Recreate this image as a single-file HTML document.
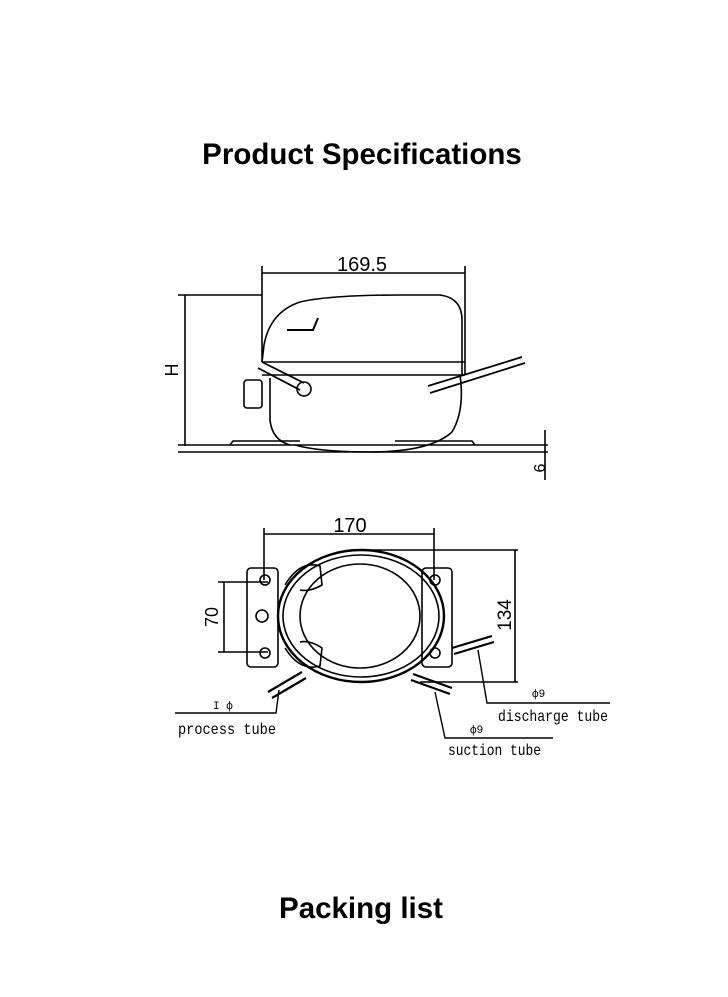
<!DOCTYPE html>
<html><head><style>
body{margin:0;background:#fff;width:728px;height:997px;overflow:hidden;font-family:"Liberation Sans",sans-serif}
.t{position:absolute;left:0;width:728px;text-align:center;font-weight:bold;font-size:29.5px;color:#000}
svg{position:absolute;left:0;top:0}
</style></head><body>
<div class="t" style="top:138px;left:-2px">Product Specifications</div>
<div class="t" style="top:892px;left:-3px">Packing list</div>
<svg width="728" height="997" fill="none" stroke="#000" stroke-width="1.6" font-family="Liberation Sans, sans-serif">
<!-- side view -->
<line x1="262" y1="273" x2="465" y2="273"/>
<line x1="262" y1="266" x2="262" y2="362"/><line x1="465" y1="266" x2="465" y2="375"/>
<text x="362" y="271" font-size="20" fill="#000" stroke="none" text-anchor="middle">169.5</text>
<line x1="178" y1="295" x2="262" y2="295"/>
<path d="M262 362 L264 345 Q270 312 300 302 Q330 295 400 295 L440 295 Q462 298 462 320 L462 375"/>
<line x1="262" y1="362" x2="465" y2="362"/><line x1="262" y1="375" x2="465" y2="375"/>
<path d="M287 330 L313 330 L318 318" stroke-width="2"/>
<line x1="185" y1="295" x2="185" y2="446"/>
<text x="178" y="370" font-size="18" fill="#000" stroke="none" transform="rotate(-90 178 370)" text-anchor="middle">H</text>
<path d="M270 378 L270 420 Q272 440 290 445 M460 375 Q465 410 452 432 Q430 452 370 452 Q320 452 295 445"/>
<line x1="178" y1="445" x2="548" y2="445"/><line x1="178" y1="452" x2="548" y2="452"/>
<path d="M230 445 L233 441 L300 441 M395 441 L472 441 L475 445"/>
<line x1="545" y1="430" x2="545" y2="480"/>
<text x="545" y="468" font-size="16" fill="#000" stroke="none" transform="rotate(-90 545 468)" text-anchor="middle">6</text>
<path d="M258 368 L300 390 M262 362 L304 383" stroke-width="1.8"/>
<circle cx="304" cy="389" r="7"/>
<rect x="244" y="380" width="18" height="28" rx="3"/>
<path d="M430 393 L525 363 M428 386 L522 357" stroke-width="1.8"/>
<!-- top view -->
<line x1="264" y1="534" x2="434" y2="534"/>
<line x1="264" y1="528" x2="264" y2="580"/><line x1="434" y1="528" x2="434" y2="580"/>
<text x="350" y="532" font-size="20" fill="#000" stroke="none" text-anchor="middle">170</text>
<line x1="355" y1="550" x2="518" y2="550"/><line x1="420" y1="682" x2="518" y2="682"/>
<line x1="515" y1="550" x2="515" y2="682"/>
<text x="511" y="615" font-size="19" fill="#000" stroke="none" transform="rotate(-90 511 615)" text-anchor="middle">134</text>
<line x1="218" y1="582" x2="268" y2="582"/><line x1="218" y1="652" x2="268" y2="652"/>
<line x1="224" y1="582" x2="224" y2="652"/>
<text x="218" y="617" font-size="18" fill="#000" stroke="none" transform="rotate(-90 218 617)" text-anchor="middle">70</text>
<rect x="247" y="568" width="31" height="99" rx="4"/>
<rect x="422" y="568" width="30" height="99" rx="4"/>
<circle cx="265" cy="580" r="5"/><circle cx="265" cy="653" r="5"/>
<circle cx="435" cy="580" r="5"/><circle cx="435" cy="653" r="5"/>
<circle cx="262" cy="616" r="6"/>
<ellipse cx="361" cy="616" rx="83" ry="66" stroke-width="2.4"/>
<ellipse cx="361" cy="616" rx="78" ry="61"/>
<ellipse cx="360" cy="616" rx="60" ry="52"/>
<path d="M285 585 Q300 560 320 566 L322 585 Q310 592 300 590 M285 648 Q300 672 320 666 L322 648 Q310 640 300 642"/>
<path d="M268 692 L302 672 M272 698 L306 678" stroke-width="2.2"/>
<path d="M452 648 L492 636 M454 654 L494 642" stroke-width="2.2"/>
<path d="M413 674 L452 688 M411 680 L450 694" stroke-width="2.2"/>
<path d="M279 690 L276 713 L175 713" stroke-width="1.4"/>
<path d="M478 650 L487 703 L610 703" stroke-width="1.4"/>
<path d="M435 692 L445 738 L553 738" stroke-width="1.4"/>
<g fill="#000" stroke="none" font-size="16" font-family="Liberation Mono, monospace">
<text x="178" y="734" textLength="98" lengthAdjust="spacingAndGlyphs">process tube</text>
<text x="498" y="721" textLength="110" lengthAdjust="spacingAndGlyphs">discharge tube</text>
<text x="448" y="755" textLength="93" lengthAdjust="spacingAndGlyphs">suction tube</text>
<text x="213" y="709" font-size="11">I ф</text>
<text x="532" y="697" font-size="11">ф9</text>
<text x="470" y="733" font-size="11">ф9</text>
</g>
</svg>
</body></html>
